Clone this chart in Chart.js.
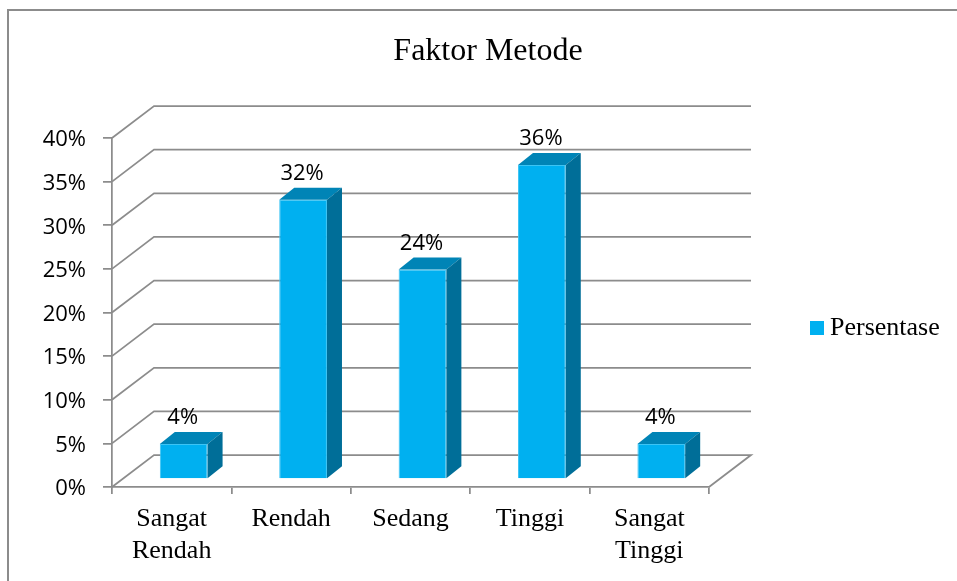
<!DOCTYPE html>
<html><head><meta charset="utf-8">
<script src="https://cdn.jsdelivr.net/npm/chart.js@4/dist/chart.umd.min.js"></script>
<style>html,body{margin:0;padding:0;background:#fff;}#wrap{width:957px;height:581px;position:relative;}</style>
</head><body><div id="wrap"><canvas id="c" width="957" height="581"></canvas></div>
<script>
const chartTitle = 'Faktor Metode';
const seriesName = 'Persentase';
const categories = [['Sangat', 'Rendah'], 'Rendah', 'Sedang', 'Tinggi', ['Sangat', 'Tinggi']];
const values = [4, 32, 24, 36, 4];
const yTicks = [0, 5, 10, 15, 20, 25, 30, 35, 40];

const GRID = '#8c8c8c';
const FRONT = '#00B0F0';
const TOPC = '#0084B6';
const SIDE = '#006E98';
const WALL_DX = 42, WALL_DY = -32;   // back wall offset
const SHIFT_X = 12, SHIFT_Y = -8;    // bars sit inside the floor
const BAR_DX = 15, BAR_DY = -12;     // bar depth

const threeD = {
  id: 'threeD',
  beforeDraw(chart) {
    const ctx = chart.ctx;
    ctx.save();
    ctx.fillStyle = '#fff';
    ctx.fillRect(0, 0, chart.width, chart.height);
    ctx.strokeStyle = GRID;
    ctx.lineWidth = 2;
    ctx.beginPath();
    ctx.moveTo(8, chart.height + 2);
    ctx.lineTo(8, 10);
    ctx.lineTo(chart.width + 2, 10);
    ctx.stroke();
    ctx.restore();
  },
  beforeDatasetsDraw(chart) {
    const { ctx, chartArea: a, scales: { y } } = chart;
    ctx.save();
    ctx.strokeStyle = GRID;
    ctx.lineWidth = 1.75;
    yTicks.forEach(v => {
      const py = y.getPixelForValue(v);
      ctx.beginPath();
      ctx.moveTo(a.left, py);
      ctx.lineTo(a.left + WALL_DX, py + WALL_DY);
      ctx.lineTo(a.right + WALL_DX, py + WALL_DY);
      if (v === 0) ctx.lineTo(a.right, py);
      ctx.stroke();
    });
    ctx.restore();
    ctx.save();
    ctx.translate(SHIFT_X, SHIFT_Y);
  },
  afterDatasetsDraw(chart) {
    const ctx = chart.ctx;
    ctx.restore();
    const meta = chart.getDatasetMeta(0);
    ctx.save();
    meta.data.forEach((bar, i) => {
      const p = bar.getProps(['x', 'y', 'base', 'width'], true);
      const x0 = p.x - p.width / 2 + SHIFT_X, x1 = p.x + p.width / 2 + SHIFT_X;
      const yt = p.y + SHIFT_Y, yb = p.base + SHIFT_Y;
      ctx.fillStyle = TOPC;
      ctx.beginPath();
      ctx.moveTo(x0, yt); ctx.lineTo(x1, yt);
      ctx.lineTo(x1 + BAR_DX, yt + BAR_DY); ctx.lineTo(x0 + BAR_DX, yt + BAR_DY);
      ctx.closePath(); ctx.fill();
      ctx.fillStyle = SIDE;
      ctx.beginPath();
      ctx.moveTo(x1, yt); ctx.lineTo(x1 + BAR_DX, yt + BAR_DY);
      ctx.lineTo(x1 + BAR_DX, yb + BAR_DY); ctx.lineTo(x1, yb);
      ctx.closePath(); ctx.fill();
      ctx.fillStyle = '#000';
      ctx.font = '22px "Open Sans"';
      ctx.textAlign = 'center';
      ctx.textBaseline = 'alphabetic';
      ctx.fillText(values[i] + '%', (x0 + x1) / 2 - 1, yt - 20);
    });
    ctx.restore();
  },
  afterDraw(chart) {
    const ctx = chart.ctx;
    ctx.save();
    ctx.fillStyle = '#000';
    ctx.font = '32px "Liberation Serif"';
    ctx.textAlign = 'center';
    ctx.textBaseline = 'alphabetic';
    ctx.fillText(chartTitle, 488, 60);
    ctx.fillStyle = FRONT;
    ctx.fillRect(810, 321, 14, 14);
    ctx.fillStyle = '#000';
    ctx.font = '26px "Liberation Serif"';
    ctx.textAlign = 'left';
    ctx.fillText(seriesName, 830, 335);
    ctx.restore();
  }
};

new Chart(document.getElementById('c'), {
  type: 'bar',
  data: {
    labels: categories,
    datasets: [{
      label: seriesName,
      data: values,
      backgroundColor: FRONT,
      borderColor: '#3cc4f4',
      borderWidth: 1,
      categoryPercentage: 1,
      barPercentage: 0.4
    }]
  },
  options: {
    responsive: false,
    animation: false,
    devicePixelRatio: 1,
    layout: { padding: { left: 0, top: 138, right: 957 - 709, bottom: 0 } },
    plugins: { legend: { display: false }, title: { display: false }, tooltip: { enabled: false } },
    scales: {
      x: {
        afterFit: s => { s.height = 581 - 487; },
        grid: { drawOnChartArea: false, drawTicks: true, tickLength: 7, color: GRID, lineWidth: 1.75, offset: true },
        border: { display: true, color: GRID, width: 1.75 },
        ticks: { color: '#000', font: { family: 'Liberation Serif', size: 26, lineHeight: 1.2 }, padding: 10, maxRotation: 0, autoSkip: false }
      },
      y: {
        min: 0, max: 40,
        afterFit: s => { s.width = 112; },
        afterBuildTicks: s => { s.ticks = yTicks.map(v => ({ value: v })); },
        grid: { drawOnChartArea: false, drawTicks: true, tickLength: 9, color: GRID, lineWidth: 1.75 },
        border: { display: true, color: GRID, width: 1.75 },
        ticks: { color: '#000', font: { family: 'Open Sans', size: 22 }, padding: 17, labelOffset: 2, callback: v => v + '%' }
      }
    }
  },
  plugins: [threeD]
});
</script>
</body></html>
